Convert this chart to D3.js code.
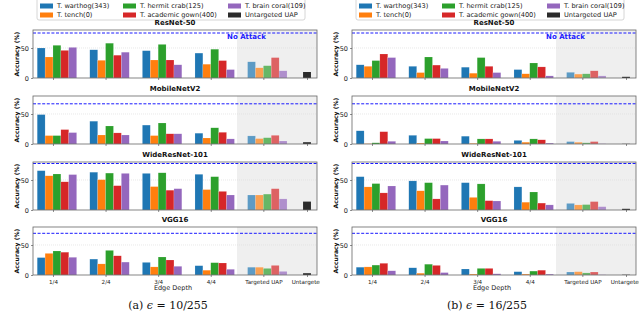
<!DOCTYPE html>
<html>
<head>
<meta charset="utf-8">
<script src="https://cdn.jsdelivr.net/npm/d3@7"></script>
<style>
  body { margin: 0; background: #fff; }
  svg { display: block; font-family: "DejaVu Sans", sans-serif; }
</style>
</head>
<body>
<div class="canvas"></div>
<script>
// ---- data ----
const depths = ['1/4', '2/4', '3/4', '4/4', 'Targeted UAP', 'Untargeted'];
const targets = ['T. warthog(343)', 'T. tench(0)', 'T. hermit crab(125)', 'T. academic gown(400)', 'T. brain coral(109)'];
const models = ['ResNet-50', 'MobileNetV2', 'WideResNet-101', 'VGG16'];
const noAttack = [75, 67, 77.5, 69.5];

// rows: 1/4, 2/4, 3/4, 4/4, Targeted UAP ; columns: targets
const resnetA = [[50, 35, 54.5, 46, 51], [47, 29.5, 58, 38, 43], [45.5, 30, 56, 30, 22], [41.5, 23, 48, 29, 14], [27, 17, 20.5, 34, 12]];
const mobileA = [[49, 14, 14, 24, 19], [38, 15, 30, 18.5, 15], [31.5, 14, 35, 17, 17], [18, 10, 27, 19.5, 8.5], [13.5, 9, 10.5, 14.5, 5]];
const wideA = [[65.5, 57, 60, 47, 59], [63, 50.5, 61.5, 40.5, 61], [61, 39, 62, 33, 35.5], [59.5, 34, 55.5, 31, 25], [25, 25, 26.5, 35.5, 18.5]];
const vggA = [[29, 36, 40, 38, 29.5], [26.5, 18.5, 41, 32, 21.5], [21, 13.5, 30, 25, 14.5], [15.5, 8, 20.5, 20, 9.5], [13, 13, 11, 16, 6]];
const untargetedA = [10, 3, 14, 3];

const resnetB = [[22, 19.5, 29, 40, 34], [19.5, 9, 35, 21.5, 16], [18, 8, 34, 19.5, 9], [14, 7, 25, 18.5, 3.5], [9.5, 6.5, 7, 12, 3.5]];
const mobileB = [[22, 0.5, 2, 20.5, 4.5], [14.5, 1.5, 9, 9, 5], [13, 1, 8.5, 8.5, 4.5], [6, 3, 8.5, 7, 1.5], [4, 3, 2, 4, 0.5]];
const wideB = [[55.5, 38.5, 44, 28.5, 40], [48.5, 32, 45.5, 18.5, 41.5], [45.5, 21, 43.5, 15.5, 15], [38.5, 13, 30, 11.5, 8.5], [11, 8.5, 9, 14, 5.5]];
const vggB = [[13, 13.5, 16.5, 19.5, 7], [12, 3, 18, 16, 4], [10, 1.5, 11, 11, 2], [5.5, 1.5, 6.5, 8, 1.5], [5, 5.5, 3.5, 5, 0.5]];
const untargetedB = [2, 0.3, 2, 0.5];

const panels = [
  { tag: '(a) ', eps: ' = 10/255', data: [resnetA, mobileA, wideA, vggA], untargeted: untargetedA },
  { tag: '(b) ', eps: ' = 16/255', data: [resnetB, mobileB, wideB, vggB], untargeted: untargetedB }
];

// ---- layout ----
const colors = ['#1f77b4', '#ff7f0e', '#2ca02c', '#d62728', '#9467bd'];
const untargetedColor = '#2b2b2b';
const plot = { left: 33, right: 317, height: 48, tops: [30, 96, 162, 227], shift: 319 };
const tickPos = [0, 1, 2, 3, 4, 4.83];
const barW = 0.15;

const svg = d3.select('.canvas')
  .append('svg')
  .attr('width', 640)
  .attr('height', 327);

svg.append('clipPath').attr('id', 'panelClip')
  .append('rect').attr('x', 0).attr('y', 0).attr('width', plot.shift + 1).attr('height', 327);

const x = d3.scaleLinear().domain([-0.38, 5.02]).range([plot.left, plot.right]);
const y = d3.scaleLinear().domain([0, 80]).range([plot.height, 0]);

panels.forEach((panel, p) => {
  const pg = svg.append('g')
    .attr('transform', `translate(${p * plot.shift},0)`)
    .attr('clip-path', 'url(#panelClip)');

  // legend
  const leg = pg.append('g');
  leg.append('rect')
    .attr('x', 37).attr('y', -3).attr('width', 268).attr('height', 23).attr('rx', 2)
    .attr('fill', '#fff').attr('stroke', '#ccc').attr('stroke-width', 0.8);
  const legItems = targets.map((t, i) => ({ name: t, color: colors[i] }))
    .concat([{ name: 'Untargeted UAP', color: untargetedColor }]);
  const colX = [40, 123, 228];
  legItems.forEach((d, i) => {
    const cx = colX[Math.floor(i / 2)];
    const cy = 6 + (i % 2) * 9;
    leg.append('rect').attr('x', cx).attr('y', cy - 2.5).attr('width', 13).attr('height', 5).attr('fill', d.color);
    leg.append('text').attr('x', cx + 17).attr('y', cy).attr('dy', '0.35em')
      .attr('font-size', 6.6).attr('fill', '#222').text(d.name);
  });

  models.forEach((model, m) => {
    const g = pg.append('g').attr('transform', `translate(0,${plot.tops[m]})`);
    const rows = panel.data[m];

    // shaded UAP region
    g.append('rect')
      .attr('x', x(3.5)).attr('y', 0)
      .attr('width', plot.right - x(3.5)).attr('height', plot.height)
      .attr('fill', '#efefef');

    // grid
    g.append('line')
      .attr('x1', plot.left).attr('x2', plot.right)
      .attr('y1', y(50)).attr('y2', y(50))
      .attr('stroke', '#d8d8d8').attr('stroke-width', 0.6).attr('stroke-dasharray', '1,1');

    // bars
    const bars = [];
    rows.forEach((row, i) => row.forEach((v, j) => bars.push({ i, j, v })));
    g.selectAll('rect.bar')
      .data(bars)
      .enter().append('rect')
      .attr('class', 'bar')
      .attr('x', d => x(d.i + (d.j - 1.5) * barW - barW / 2))
      .attr('width', x(barW) - x(0))
      .attr('y', d => y(d.v))
      .attr('height', d => y(0) - y(d.v))
      .attr('fill', d => colors[d.j])
      .attr('fill-opacity', d => d.i === 4 ? 0.7 : 1)
      .attr('stroke', '#fff').attr('stroke-opacity', 0.35).attr('stroke-width', 0.4);

    g.append('rect')
      .attr('x', x(tickPos[5] - barW / 2))
      .attr('width', x(barW) - x(0))
      .attr('y', y(panel.untargeted[m]))
      .attr('height', y(0) - y(panel.untargeted[m]))
      .attr('fill', untargetedColor);

    // no-attack line
    g.append('line')
      .attr('x1', plot.left).attr('x2', plot.right)
      .attr('y1', y(noAttack[m])).attr('y2', y(noAttack[m]))
      .attr('stroke', '#1a1aff').attr('stroke-width', 1).attr('stroke-dasharray', '3,1.6');
    if (m === 0) {
      g.append('text')
        .attr('x', x(3.31)).attr('y', y(65))
        .attr('font-size', 7).attr('font-weight', 'bold').attr('fill', '#1a1aff')
        .text('No Attack');
    }

    // frame
    g.append('rect')
      .attr('x', plot.left).attr('y', 0)
      .attr('width', plot.right - plot.left).attr('height', plot.height)
      .attr('fill', 'none').attr('stroke', '#666').attr('stroke-width', 0.8);

    // axes
    const yAxis = g.append('g')
      .attr('transform', `translate(${plot.left},0)`)
      .call(d3.axisLeft(y).tickValues([0, 50]).tickSize(2).tickPadding(2));
    const xAxis = g.append('g')
      .attr('transform', `translate(0,${plot.height})`)
      .call(d3.axisBottom(x).tickValues(tickPos).tickSize(2).tickPadding(3)
        .tickFormat((d, i) => m === 3 ? depths[i] : ''));
    [yAxis, xAxis].forEach(a => {
      a.select('.domain').remove();
      a.selectAll('line').attr('stroke', '#444').attr('stroke-width', 0.6);
      a.selectAll('text').attr('fill', '#222').attr('font-family', '"DejaVu Sans", sans-serif');
    });
    yAxis.selectAll('text').attr('font-size', 6.5);
    xAxis.selectAll('text').attr('font-size', 5.6);

    // titles
    g.append('text')
      .attr('x', (plot.left + plot.right) / 2).attr('y', -5)
      .attr('text-anchor', 'middle').attr('font-size', 7).attr('font-weight', 'bold').attr('fill', '#111')
      .text(model);
    g.append('text')
      .attr('transform', `translate(19,${plot.height / 2}) rotate(-90)`)
      .attr('text-anchor', 'middle').attr('font-size', 6.1).attr('font-weight', 'bold').attr('fill', '#111')
      .text('Accuracy (%)');
  });

  // x label
  pg.append('text')
    .attr('x', (plot.left + plot.right) / 2 - 2).attr('y', 290)
    .attr('text-anchor', 'middle').attr('font-size', 6.5).attr('fill', '#222')
    .text('Edge Depth');

  // caption
  const cap = pg.append('text')
    .attr('x', 168).attr('y', 309)
    .attr('text-anchor', 'middle').attr('font-size', 11)
    .attr('font-family', '"DejaVu Serif", "Liberation Serif", serif').attr('fill', '#111');
  cap.append('tspan').text(panel.tag);
  cap.append('tspan').attr('font-style', 'italic').text('\u03F5');
  cap.append('tspan').text(panel.eps);
});
</script>
</body>
</html>
